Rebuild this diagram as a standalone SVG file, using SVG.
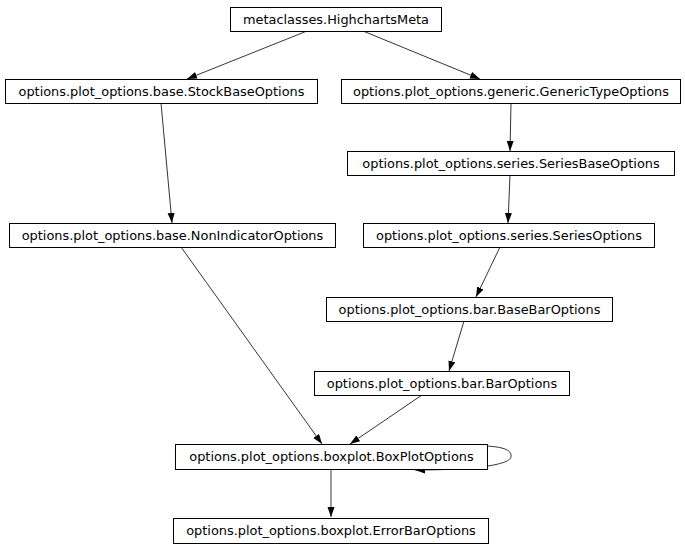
<svg xmlns="http://www.w3.org/2000/svg" width="685" height="549" viewBox="0 0 685 549">
<style>
.n rect{fill:#fff;stroke:#000;stroke-width:1}
.n text{font-family:"DejaVu Sans",sans-serif;font-size:12.9px;fill:#000;text-anchor:middle}
.e path{fill:none;stroke:#000;stroke-width:0.8;marker-end:url(#ah)}
</style>
<defs>
<marker id="ah" markerUnits="userSpaceOnUse" markerWidth="10" markerHeight="8" refX="10" refY="3.5" orient="auto">
<path d="M0,0 L10,3.5 L0,7 z" fill="#000"/>
</marker>
</defs>
<rect width="685" height="549" fill="#fff"/>
<g class="e">
<path d="M307,31 L187,79"/>
<path d="M363,31 L480,79"/>
<path d="M161,103 L172,223"/>
<path d="M511,103 L510,151"/>
<path d="M510,175 L508,223"/>
<path d="M500,247 L476,297"/>
<path d="M464,321 L449,371"/>
<path d="M422,395 L350,444"/>
<path d="M181,247 L322,444"/>
<path d="M331,469 L331,517"/>
<path d="M486,446 C506,447 512,451 511,457 C510,464 480,470 415,470"/>
</g>
<g id="HighchartsMeta" class="n"><rect x="230.5" y="7.5" width="211" height="24"/><text x="336" y="23.5">metaclasses.HighchartsMeta</text></g>
<g id="StockBaseOptions" class="n"><rect x="5.5" y="79.5" width="312" height="24"/><text x="161.5" y="95.5">options.plot_options.base.StockBaseOptions</text></g>
<g id="GenericTypeOptions" class="n"><rect x="341.5" y="79.5" width="339" height="24"/><text x="511" y="95.5">options.plot_options.generic.GenericTypeOptions</text></g>
<g id="SeriesBaseOptions" class="n"><rect x="347.5" y="151.5" width="327" height="24"/><text x="511" y="167.5">options.plot_options.series.SeriesBaseOptions</text></g>
<g id="NonIndicatorOptions" class="n"><rect x="9.5" y="223.5" width="326" height="24"/><text x="172.5" y="239.5">options.plot_options.base.NonIndicatorOptions</text></g>
<g id="SeriesOptions" class="n"><rect x="363.5" y="223.5" width="291" height="24"/><text x="509" y="239.5">options.plot_options.series.SeriesOptions</text></g>
<g id="BaseBarOptions" class="n"><rect x="326.5" y="297.5" width="286" height="24"/><text x="469.5" y="313.5">options.plot_options.bar.BaseBarOptions</text></g>
<g id="BarOptions" class="n"><rect x="314.5" y="371.5" width="255" height="24"/><text x="442" y="387.5">options.plot_options.bar.BarOptions</text></g>
<g id="BoxPlotOptions" class="n"><rect x="175.5" y="444.5" width="312" height="25"/><text x="331.5" y="461">options.plot_options.boxplot.BoxPlotOptions</text></g>
<g id="ErrorBarOptions" class="n"><rect x="173.5" y="518.5" width="315" height="25"/><text x="331" y="535">options.plot_options.boxplot.ErrorBarOptions</text></g>
</svg>
